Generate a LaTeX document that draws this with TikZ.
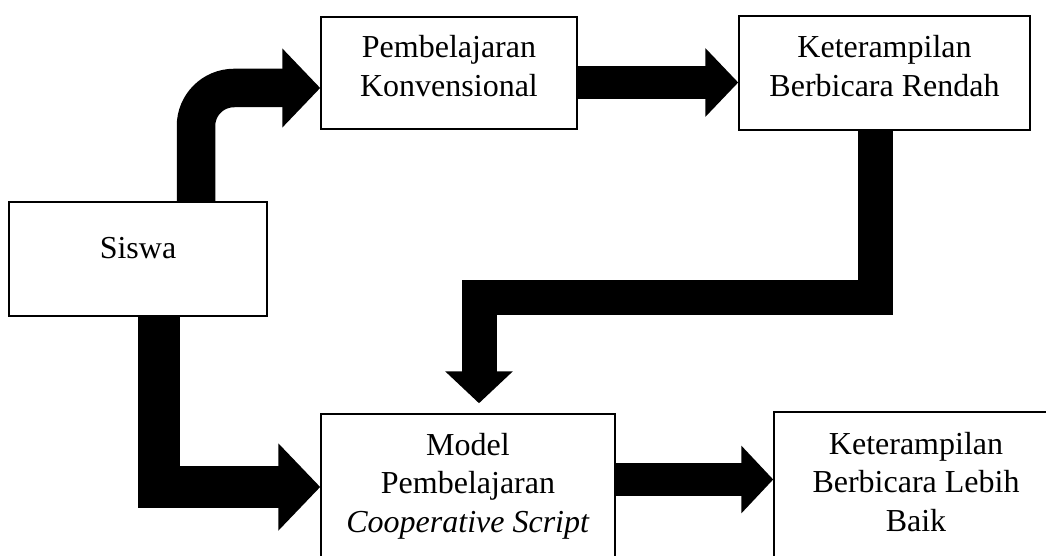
\documentclass[tikz,border=0pt]{standalone}
\usepackage{fontspec}
\setmainfont{Liberation Serif}
\usetikzlibrary{arrows.meta}
\begin{document}
\begin{tikzpicture}[x=1pt,y=-1pt,
  box/.style={draw=black, line width=1.5pt, fill=white, inner sep=0pt, align=center,
    font=\fontsize{32pt}{38.4pt}\selectfont},
  blk/.style={draw=black, line width=#1, line join=miter},
]
\useasboundingbox (0,0) rectangle (1046,556);
\clip (0,0) rectangle (1046,556);
\fill[white] (0,0) rectangle (1046,556);

\node[box, minimum width=258pt, minimum height=114pt, text depth=22pt] (siswa) at (138,259) {Siswa};
\node[box, minimum width=256pt, minimum height=112pt, text depth=14pt] (konv) at (449,73) {Pembelajaran\\Konvensional};
\node[box, minimum width=291pt, minimum height=114pt, text depth=14pt] (rendah) at (884.5,73) {Keterampilan\\Berbicara Rendah};
\node[box, minimum width=294pt, minimum height=150pt, text depth=13pt] (model) at (468,489) {Model\\Pembelajaran\\\textit{Cooperative Script}};
\node[box, minimum width=284pt, minimum height=150pt, text depth=11pt] (lebih) at (916,487) {Keterampilan\\Berbicara Lebih\\Baik};

\draw[blk=38.5pt, rounded corners=38pt, -{Triangle[length=38pt 0 0,width=77pt 0 0]}]
  (siswa.north -| 196,0) -- (196,88) -- (konv.west |- 0,88);
\draw[blk=33pt, -{Triangle[length=33pt 0 0,width=67pt 0 0]}]
  (konv.east |- 0,82.5) -- (rendah.west |- 0,82.5);
\draw[blk=35pt, shorten >=10pt, -{Triangle[length=32pt 0 0,width=66pt 0 0]}]
  (rendah.south -| 875,0) -- (875,297) -- (479,297) -- (model.north -| 479,0);
\draw[blk=42pt, -{Triangle[length=42pt 0 0,width=85pt 0 0]}]
  (siswa.south -| 158.5,0) -- (158.5,487) -- (model.west |- 0,487);
\draw[blk=33pt, -{Triangle[length=32pt 0 0,width=66pt 0 0]}]
  (model.east |- 0,479.5) -- (lebih.west |- 0,479.5);
\end{tikzpicture}
\end{document}
